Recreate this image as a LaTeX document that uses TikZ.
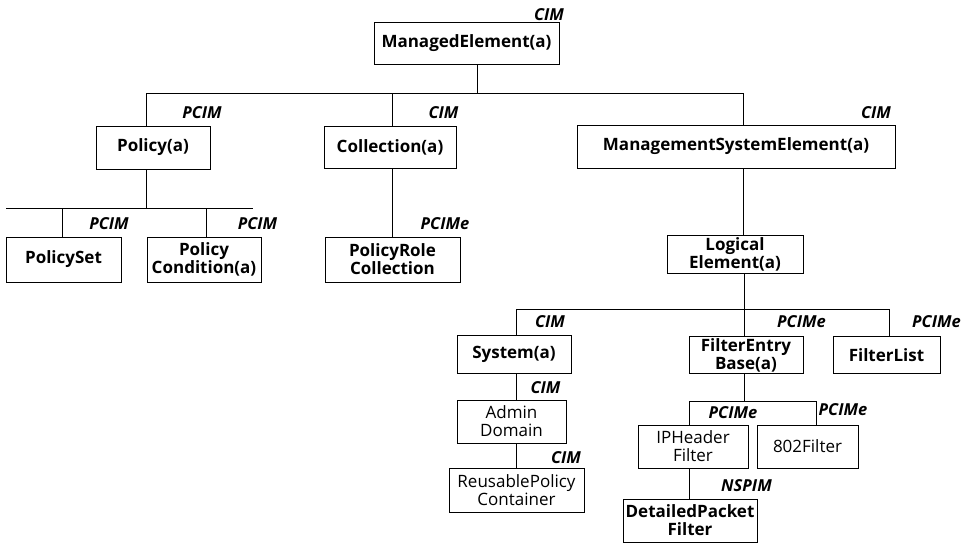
\documentclass[tikz,border=0pt]{standalone}
\usepackage{fontspec}
\setmainfont{Open Sans}
\begin{document}
\begin{tikzpicture}[x=1pt,y=-1pt,
  box/.style={draw,line width=0.8pt,inner sep=0pt,align=center,font=\fontsize{17}{18}\selectfont\bfseries},
  rbox/.style={box,font=\fontsize{17}{18}\selectfont},
  lab/.style={inner sep=0pt,font=\fontsize{16.5}{17}\selectfont\bfseries\itshape},
  wire/.style={line width=0.8pt}]
\useasboundingbox (0,0) rectangle (966,543);
% boxes
\node[box,minimum width=185,minimum height=42] (me) at (466.5,43) {ManagedElement(a)};
\node[box,minimum width=114,minimum height=43] (pol) at (153,147.5) {Policy(a)};
\node[box,minimum width=132,minimum height=42] (col) at (390,147) {Collection(a)};
\node[box,minimum width=318,minimum height=43] (mse) at (736,146.5) {ManagementSystemElement(a)};
\node[box,minimum width=115,minimum height=45] (pset) at (63.5,259.5) {PolicySet};
\node[box,minimum width=114,minimum height=45] (pcond) at (204,259.5) {Policy\\Condition(a)};
\node[box,minimum width=135,minimum height=45] (prc) at (392.5,259.5) {PolicyRole\\Collection};
\node[box,minimum width=136,minimum height=38] (log) at (735,254.5) {Logical\\Element(a)};
\node[box,minimum width=114,minimum height=38] (sys) at (514,354) {System(a)};
\node[box,minimum width=114,minimum height=37] (feb) at (746,355) {FilterEntry\\Base(a)};
\node[box,minimum width=107,minimum height=37] (fl) at (886.5,355) {FilterList};
\node[rbox,minimum width=109,minimum height=43] (adm) at (511.5,421.5) {Admin\\Domain};
\node[rbox,minimum width=135,minimum height=44] (rpc) at (516.5,490) {ReusablePolicy\\Container};
\node[rbox,minimum width=110,minimum height=43] (iph) at (693,446.5) {IPHeader\\Filter};
\node[rbox,minimum width=101,minimum height=43] (f802) at (807.5,446.5) {802Filter};
\node[box,minimum width=134,minimum height=43] (dpf) at (690,520.5) {DetailedPacket\\Filter};
% labels
\node[lab] (l1) at (549,15) {CIM};
\node[lab] (l2) at (202,113) {PCIM};
\node[lab] (l3) at (443.5,113) {CIM};
\node[lab] (l4) at (876,113) {CIM};
\node[lab] (l5) at (109,224) {PCIM};
\node[lab] (l6) at (257.5,224) {PCIM};
\node[lab] (l7) at (445,224) {PCIMe};
\node[lab] (l8) at (550,322) {CIM};
\node[lab] (l9) at (801.5,322) {PCIMe};
\node[lab] (l10) at (936.5,322) {PCIMe};
\node[lab] (l11) at (545.5,388) {CIM};
\node[lab] (l12) at (566,458) {CIM};
\node[lab] (l13) at (733,413) {PCIMe};
\node[lab] (l14) at (843,410) {PCIMe};
\node[lab] (l15) at (746.5,486) {NSPIM};
% bus coordinates
\coordinate (b1) at (477,93);
\coordinate (b1l) at (146,93);
\coordinate (b1r) at (743,93);
\coordinate (b2) at (146,208);
\coordinate (b2l) at (6,208);
\coordinate (b2r) at (253,208);
\coordinate (b3) at (744,309);
\coordinate (b3l) at (516,309);
\coordinate (b3r) at (889,309);
\coordinate (b4) at (744,401);
\coordinate (b4l) at (689,401);
\coordinate (b4r) at (816,401);
% top level
\draw[wire] (me.south -| b1) -- (b1);
\draw[wire] (b1l) -- (b1r);
\draw[wire] (b1l) -- (pol.north -| b1l);
\draw[wire] (col.north -| 392,0) -- (392,93);
\draw[wire] (b1r) -- (mse.north -| b1r);
% policy branch
\draw[wire] (pol.south -| b2) -- (b2);
\draw[wire] (b2l) -- (b2r);
\draw[wire] (62,208) -- (pset.north -| 62,0);
\draw[wire] (206,208) -- (pcond.north -| 206,0);
% collection branch
\draw[wire] (col.south -| 392,0) -- (prc.north -| 392,0);
% mse branch
\draw[wire] (mse.south -| b1r) -- (log.north -| b1r);
\draw[wire] (log.south -| b3) -- (b3);
\draw[wire] (b3l) -- (b3r);
\draw[wire] (b3l) -- (sys.north -| b3l);
\draw[wire] (b3) -- (feb.north -| b3);
\draw[wire] (b3r) -- (fl.north -| b3r);
\draw[wire] (sys.south -| b3l) -- (adm.north -| b3l);
\draw[wire] (adm.south -| b3l) -- (rpc.north -| b3l);
\draw[wire] (feb.south -| b4) -- (b4);
\draw[wire] (b4l) -- (b4r);
\draw[wire] (b4l) -- (iph.north -| b4l);
\draw[wire] (b4r) -- (f802.north -| b4r);
\draw[wire] (iph.south -| b4l) -- (dpf.north -| b4l);
\end{tikzpicture}
\end{document}
